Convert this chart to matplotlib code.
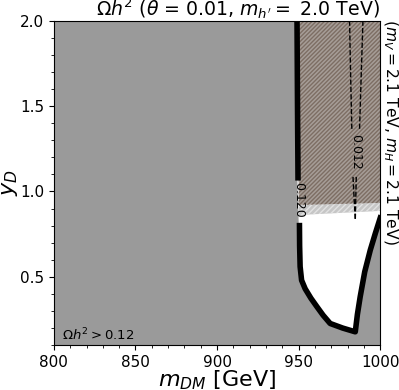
import matplotlib.pyplot as plt
from matplotlib.ticker import MultipleLocator

# Omega h^2 = 0.120 contour (thick line), upper piece and lower loop
c120_top_x = [949.0, 949.3, 949.6]
c120_top_y = [2.0, 1.5, 1.08]
c120_low_x = [950.5, 950.6, 950.9, 951.8, 954.0, 957.5, 961.2, 965.0, 969.3,
              977.0, 984.7, 986.0, 987.7, 990.5, 993.9, 997.0, 1000.0]
c120_low_y = [0.80, 0.68, 0.56, 0.48, 0.43, 0.375, 0.325, 0.275, 0.227,
              0.20, 0.178, 0.28, 0.383, 0.53, 0.657, 0.755, 0.845]

# Omega h^2 = 0.012 contour (dashed), two branches meeting at the bottom
c012_left_x = [981.2, 981.8, 982.6]
c012_left_y = [2.0, 1.7, 1.36]
c012_right_x = [989.4, 988.4, 987.3]
c012_right_y = [2.0, 1.7, 1.36]
c012_low1_x = [983.3, 984.7]
c012_low1_y = [1.085, 0.83]
c012_low2_x = [985.3, 984.7]
c012_low2_y = [1.085, 0.83]

# excluded (hatched) region edges
excl_x = [950.0, 1000.0]
excl_lo = [0.921, 0.933]
band_lo = [0.862, 0.886]

fig, ax = plt.subplots(figsize=(3.99, 3.90), dpi=100)
fig.subplots_adjust(left=0.135, right=0.953, top=0.947, bottom=0.115)

ax.set_facecolor('#9a9a9a')

# white (allowed) region inside the 0.12 contour
wx = [949.0] + c120_top_x + c120_low_x + [1000.0, 1000.0]
wy = [2.0] + c120_top_y + c120_low_y + [0.845, 2.0]
ax.fill(wx, wy, color='white', zorder=1)

# hatched exclusion
ax.fill_between(excl_x, band_lo, excl_lo, facecolor='#c6c6c6', edgecolor='#e2e2e2',
                hatch='//////', linewidth=0, zorder=2)
ax.fill_between(excl_x, excl_lo, [2.0, 2.0], facecolor='#a69d97', edgecolor='#7d6e64',
                hatch='////////', linewidth=0, zorder=2)

ax.plot(c120_top_x, c120_top_y, color='black', lw=4, zorder=3)
ax.plot(c120_low_x, c120_low_y, color='black', lw=4, solid_joinstyle='round', zorder=3)
ax.text(949.9, 0.95, '0.120', rotation=-90, ha='center', va='center', fontsize=9, zorder=4)

ax.plot(c012_left_x, c012_left_y, 'k--', lw=1, zorder=3)
ax.plot(c012_right_x, c012_right_y, 'k--', lw=1, zorder=3)
ax.plot(c012_low1_x, c012_low1_y, 'k--', lw=1, zorder=3)
ax.plot(c012_low2_x, c012_low2_y, 'k--', lw=1, zorder=3)
ax.text(984.9, 1.23, '0.012', rotation=-90, ha='center', va='center', fontsize=9, zorder=4)

ax.text(805, 0.11, r'$\Omega h^2 > 0.12$', fontsize=9.5, ha='left', va='bottom')
ax.text(1.003, 1.006, r'$(m_V = 2.1$ TeV, $m_H = 2.1$ TeV)', rotation=-90,
        transform=ax.transAxes, ha='left', va='top', fontsize=11.2)

ax.set_xlim(800, 1000)
ax.set_ylim(0.1, 2.0)
ax.set_xticks([800, 850, 900, 950, 1000])
ax.set_yticks([0.5, 1.0, 1.5, 2.0])
ax.xaxis.set_minor_locator(MultipleLocator(10))
ax.yaxis.set_minor_locator(MultipleLocator(0.1))
ax.tick_params(labelsize=11)
ax.set_xlabel(r'$m_{DM}$ [GeV]', fontsize=16, labelpad=-1)
ax.set_ylabel(r'$y_D$', fontsize=16, labelpad=0)
ax.set_title(r"$\Omega h^2$ ($\theta$ = 0.01, $m_{h'} = $ 2.0 TeV)", fontsize=13.6,
             loc='right', pad=0)

plt.savefig('out.png', dpi=100)
